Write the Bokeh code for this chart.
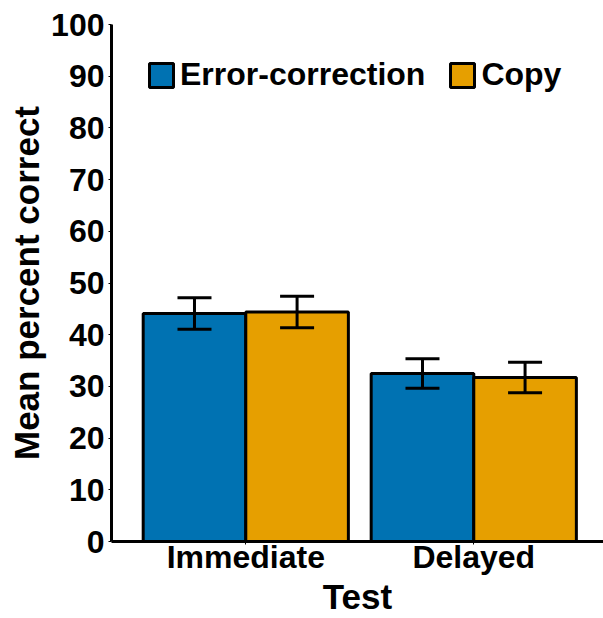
from bokeh.plotting import figure
from bokeh.models import (Range1d, FixedTicker, Legend, LegendItem, Whisker,
                          TeeHead, ColumnDataSource)
from bokeh.embed import file_html
from bokeh.resources import INLINE

# ---- data ----
tests = ["Immediate", "Delayed"]
conditions = ["Error-correction", "Copy"]
ec_means = [44.1, 32.5]
copy_means = [44.4, 31.7]
ec_se = [3.05, 2.85]
copy_se = [3.05, 2.95]
y_ticks = [0, 10, 20, 30, 40, 50, 60, 70, 80, 90, 100]
x_title = "Test"
y_title = "Mean percent correct"
colors = ["#0072B2", "#E69F00"]

FONT = "Liberation Sans"
DODGE = 0.225
BAR_W = 0.45

p = figure(width=603, height=618, output_backend="svg",
           toolbar_location=None,
           x_range=Range1d(0.411, 2.569), y_range=Range1d(0, 100),
           min_border_left=111, min_border_right=0, min_border_top=24,
           min_border_bottom=76)
p.outline_line_color = None
p.xgrid.visible = False
p.ygrid.visible = False
p.background_fill_color = "white"

centers = [i + 1 for i in range(len(tests))]
renderers = []
for k, (means, se) in enumerate([(ec_means, ec_se), (copy_means, copy_se)]):
    off = -DODGE if k == 0 else DODGE
    xs = [c + off for c in centers]
    src = ColumnDataSource(dict(x=xs, top=means,
                                lower=[m - s for m, s in zip(means, se)],
                                upper=[m + s for m, s in zip(means, se)]))
    r = p.vbar(x="x", top="top", width=BAR_W, bottom=0, source=src,
               fill_color=colors[k], line_color="black", line_width=3)
    renderers.append(r)
    w = Whisker(base="x", lower="lower", upper="upper", source=src,
                line_color="black", line_width=3, level="overlay",
                upper_head=TeeHead(size=34, line_width=3, line_color="black"),
                lower_head=TeeHead(size=34, line_width=3, line_color="black"))
    p.add_layout(w)

# axes
for ax in (p.xaxis[0], p.yaxis[0]):
    ax.axis_line_width = 3
    ax.axis_line_color = "black"
    ax.major_tick_line_color = "black"
    ax.major_tick_line_width = 1
    ax.major_tick_in = 0
    ax.major_tick_out = 3
    ax.minor_tick_line_color = None
    ax.major_label_text_font = FONT
    ax.major_label_text_font_style = "bold"
    ax.major_label_text_font_size = "32px"
    ax.major_label_text_color = "black"
    ax.axis_label_text_font = FONT
    ax.axis_label_text_font_style = "bold"
    ax.axis_label_text_font_size = "35px"
    ax.axis_label_text_color = "black"

p.yaxis.ticker = FixedTicker(ticks=y_ticks)
p.yaxis.major_label_standoff = 4
p.yaxis.axis_label = y_title
p.yaxis.axis_label_standoff = 2

p.xaxis.ticker = FixedTicker(ticks=centers)
p.xaxis.major_label_overrides = {c: t for c, t in zip(centers, tests)}
p.xaxis.major_label_standoff = -6
p.xaxis.axis_label = x_title
p.xaxis.axis_label_standoff = -1

legend = Legend(items=[LegendItem(label=conditions[i], renderers=[renderers[i]])
                       for i in range(2)],
                orientation="horizontal", location=(35, 448),
                glyph_width=30, glyph_height=30, label_standoff=4, spacing=22,
                padding=0, margin=0, border_line_color=None,
                background_fill_alpha=0,
                label_text_font=FONT, label_text_font_style="bold",
                label_text_font_size="32px", label_text_color="black")
p.add_layout(legend)

open("out.html", "w").write(file_html(p, INLINE))
